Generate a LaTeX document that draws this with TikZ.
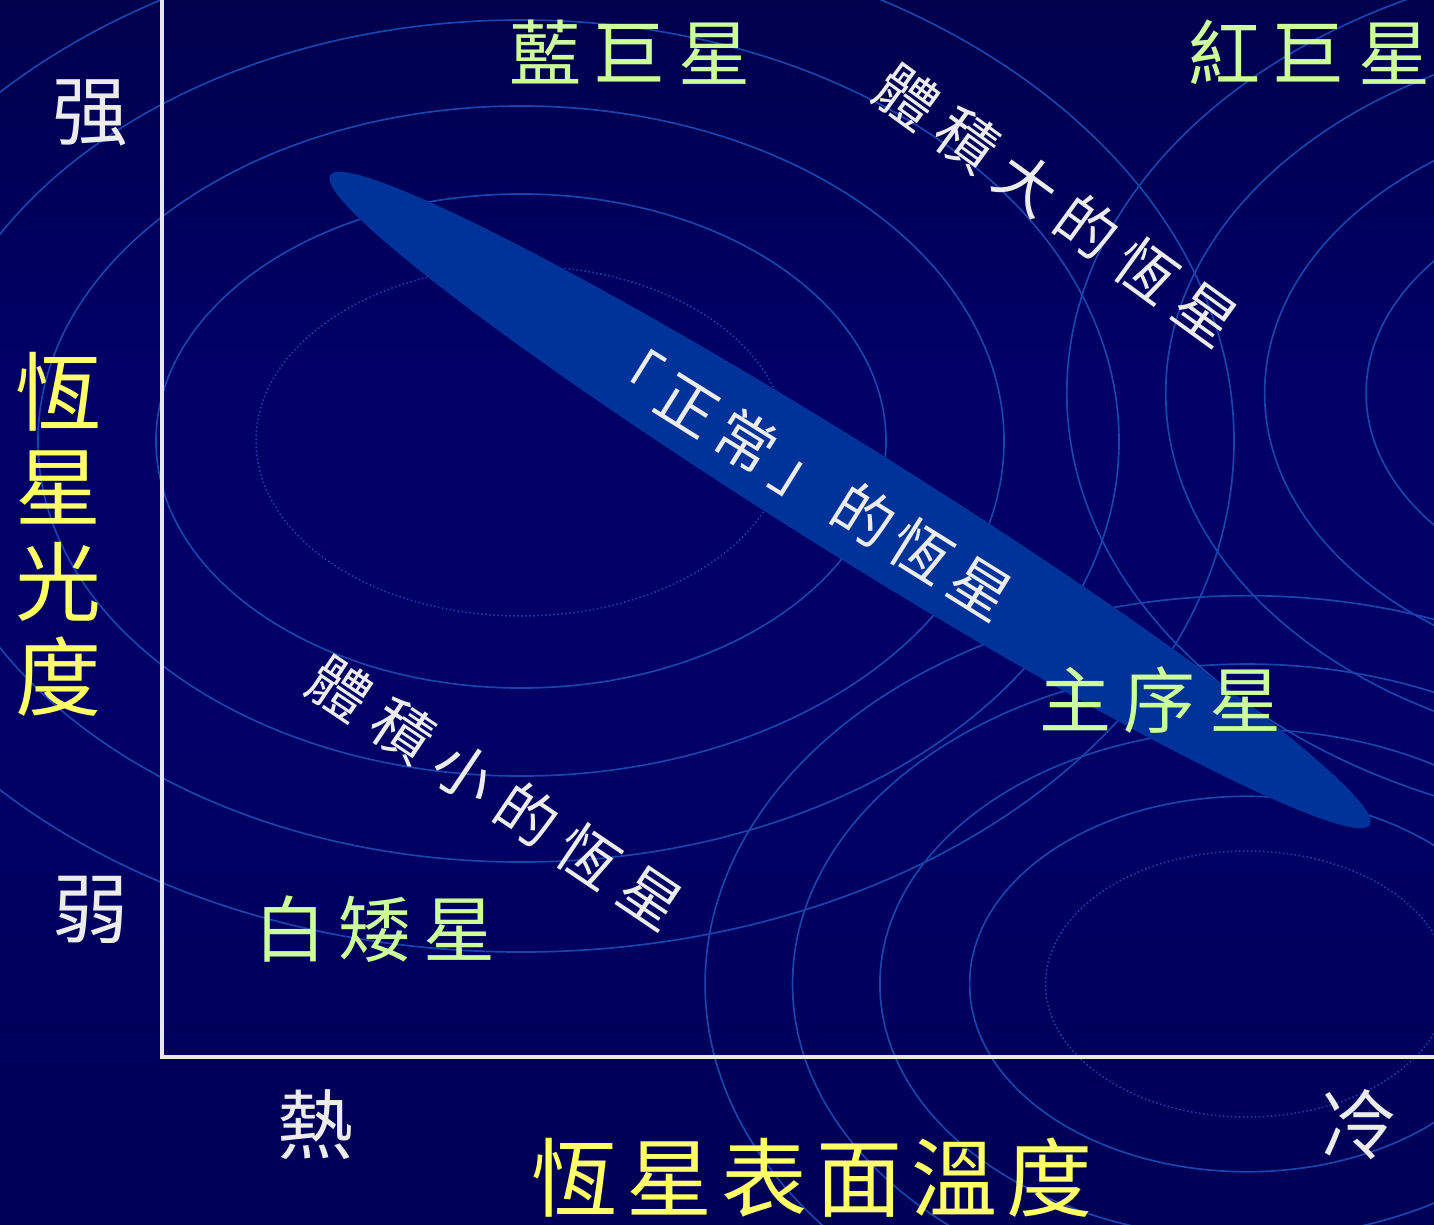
\documentclass[tikz,border=0pt]{standalone}
\usepackage{fontspec}
\newfontfamily\cjk{Noto Sans CJK TC}
\definecolor{ringc}{RGB}{24,68,172}
\definecolor{bandc}{RGB}{0,51,153}
\definecolor{lgreen}{RGB}{204,255,153}
\definecolor{lyellow}{RGB}{255,255,102}
\definecolor{lwhite}{RGB}{236,236,236}
\definecolor{axisc}{RGB}{230,230,235}
\definecolor{bgA}{RGB}{0,0,36}
\definecolor{bgB}{RGB}{0,0,86}
\definecolor{bgC}{RGB}{0,0,102}
\definecolor{bgD}{RGB}{0,0,68}
\definecolor{bgE}{RGB}{0,0,12}
\pgfdeclareverticalshading{bgshade}{100bp}{color(0bp)=(bgA); color(25bp)=(bgB); color(45bp)=(bgC); color(60bp)=(bgC); color(80bp)=(bgD); color(100bp)=(bgE)}
\tikzset{
  ring/.style={draw=ringc, line width=1.7pt},
  ringdot/.style={draw=ringc, line width=1.5pt, dash pattern=on 1.5pt off 2.5pt},
  axisline/.style={draw=axisc, line width=4.5pt},
  glbl/.style={text=lgreen, inner sep=0pt, font=\cjk\fontsize{72}{72}\selectfont},
  ylbl/.style={text=lyellow, inner sep=0pt, font=\cjk\fontsize{86}{95}\selectfont},
  wlbl/.style={text=lwhite, inner sep=0pt, font=\cjk\fontsize{76}{76}\selectfont},
  slantlbl/.style={text=lwhite, inner sep=0pt, font=\cjk\fontsize{60}{60}\selectfont}
}
\begin{document}
\begin{tikzpicture}[x=1pt,y=-1pt]
\useasboundingbox (0,0) rectangle (1434,1225);
\shade[shading=bgshade] (0,0) rectangle (1434,1225);
\begin{scope}
\clip (0,0) rectangle (1434,1225);
% concentric ring groups
\foreach \cx/\cy/\s in {521/441/1, 1247/984/0.76, 1680/393/0.86}{
  \draw[ringdot] (\cx,\cy) ellipse [x radius={\s*265pt}, y radius={\s*175pt}];
  \foreach \a/\b in {365/247, 483/335, 598/421, 713/511}{
    \draw[ring] (\cx,\cy) ellipse [x radius={\s*\a pt}, y radius={\s*\b pt}];
  }
}
% main sequence band
\fill[bandc, rotate around={-32:(850,500)}] (850,500) ellipse [x radius=613pt, y radius=55pt];
\end{scope}
% axes
\coordinate (ytop) at (162,0);
\coordinate (origin) at (162,1057);
\coordinate (xend) at (1434,1057);
\draw[axisline] (ytop) -- (origin) -- (xend);
% labels
\node[glbl] (bluegiant) at (630,52) {藍\hspace{13pt}巨\hspace{13pt}星};
\node[glbl] (redgiant) at (1309,52) {紅\hspace{13pt}巨\hspace{13pt}星};
\node[glbl] (mainseq) at (1160,700) {主\hspace{13pt}序\hspace{13pt}星};
\node[glbl] (whitedwarf) at (375,929) {白\hspace{13pt}矮\hspace{13pt}星};
\node[wlbl] (strong) at (90,113) {强};
\node[wlbl] (weak) at (90,910) {弱};
\node[wlbl] (hot) at (315,1125) {熱};
\node[wlbl] (cold) at (1358,1125) {冷};
\node[ylbl, align=center] (lum) at (58,534) {恆\\星\\光\\度};
\node[ylbl] (temp) at (812,1178) {恆\hspace{9pt}星\hspace{9pt}表\hspace{9pt}面\hspace{9pt}溫\hspace{9pt}度};
\node[slantlbl, rotate=-32] (normal) at (805,478) {「\hspace{9pt}正\hspace{9pt}常\hspace{9pt}」\hspace{9pt}的\hspace{9pt}恆\hspace{9pt}星};
\node[slantlbl, rotate=-36] (big) at (1057,205) {體\hspace{14pt}積\hspace{14pt}大\hspace{14pt}的\hspace{14pt}恆\hspace{14pt}星};
\node[slantlbl, rotate=-34] (small) at (496,793) {體\hspace{15pt}積\hspace{15pt}小\hspace{15pt}的\hspace{15pt}恆\hspace{15pt}星};
\end{tikzpicture}
\end{document}
